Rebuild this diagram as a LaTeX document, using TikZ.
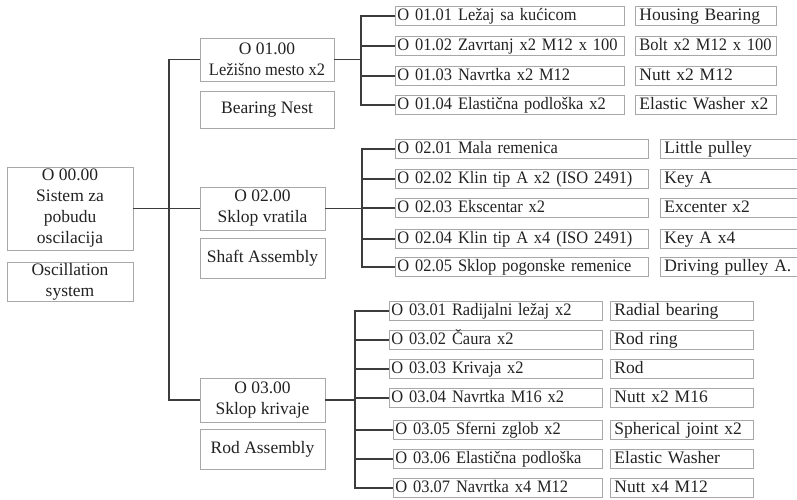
\documentclass[tikz,border=0pt]{standalone}
\usepackage{fontspec}
\setmainfont{Liberation Serif}
\newfontfamily\codefont[FakeStretch=0.94]{Liberation Serif}
\definecolor{boxgray}{HTML}{A8A8A8}
\definecolor{wire}{HTML}{3C3C3C}
\definecolor{ink}{HTML}{222222}
\newcommand{\treefont}{\fontsize{17.5}{21}\selectfont}
\begin{document}
\begin{tikzpicture}[x=1pt,y=-1pt,
  box/.style={draw=boxgray, line width=0.9pt, rectangle, font=\treefont, text=ink},
  midbox/.style={box, inner sep=0pt, align=center},
  item/.style={box, anchor=west, minimum height=19pt, inner xsep=2pt, inner ysep=0pt,
    text width=#1, align=left, text height=12.5pt, text depth=3.5pt,
    font=\treefont\codefont},
  eng/.style={item=#1, inner xsep=4pt, font=\treefont},
  ln/.style={draw=wire, line width=1.5pt}
]
\useasboundingbox (0,0) rectangle (797,500);
\clip (0,0) rectangle (797,500);

% ---- root level ----
\node[midbox, minimum width=126pt, minimum height=83pt] (root) at (70,208.5)
  {O 00.00\\Sistem za\\pobudu\\oscilacija};
\node[midbox, minimum width=126pt, minimum height=39pt] (rooten) at (70,281.5)
  {Oscillation\\system};

% ---- sub-assemblies ----
\node[midbox, minimum width=134pt, minimum height=43pt] (p1) at (267,59.5)
  {O 01.00\\{\codefont Ležišno mesto x2}};
\node[midbox, minimum width=134pt, minimum height=37pt] (p1en) at (267,109.5)
  {Bearing Nest};
\node[midbox, minimum width=125pt, minimum height=43pt] (p2) at (262.5,208.5)
  {O 02.00\\Sklop vratila};
\node[midbox, minimum width=125pt, minimum height=40pt] (p2en) at (262.5,258)
  {Shaft Assembly};
\node[midbox, minimum width=125pt, minimum height=44pt] (p3) at (262.5,400)
  {O 03.00\\Sklop krivaje};
\node[midbox, minimum width=125pt, minimum height=40pt] (p3en) at (262.5,449)
  {Rod Assembly};

% ---- group 01 parts ----
\node[item=225pt] (c11) at (395,16)  {O 01.01 Ležaj sa kućicom};
\node[item=225pt] (c12) at (395,46)  {\mbox{O 01.02 Zavrtanj x2 M12 x 100}};
\node[item=225pt] (c13) at (395,76)  {O 01.03 Navrtka x2 M12};
\node[item=225pt] (c14) at (395,105) {\mbox{O 01.04 Elastična podloška x2}};
\node[eng=133pt] (e11) at (635,16)  {Housing Bearing};
\node[eng=133pt] (e12) at (635,46)  {\mbox{\codefont Bolt x2 M12 x 100}};
\node[eng=133pt] (e13) at (635,76)  {Nutt x2 M12};
\node[eng=133pt] (e14) at (635,105) {\mbox{Elastic Washer x2}};

% ---- group 02 parts ----
\node[item=249pt] (c21) at (395,149) {O 02.01 Mala remenica};
\node[item=249pt] (c22) at (395,179) {O 02.02 Klin tip A x2 (ISO 2491)};
\node[item=249pt] (c23) at (395,208) {O 02.03 Ekscentar x2};
\node[item=249pt] (c24) at (395,239) {O 02.04 Klin tip A x4 (ISO 2491)};
\node[item=249pt] (c25) at (395,267) {\mbox{O 02.05 Sklop pogonske remenice}};
\node[eng=152pt] (e21) at (660,149) {Little pulley};
\node[eng=152pt] (e22) at (660,179) {Key A};
\node[eng=152pt] (e23) at (660,208) {Excenter x2};
\node[eng=152pt] (e24) at (660,239) {Key A x4};
\node[eng=152pt] (e25) at (660,267) {Driving pulley A.};

% ---- group 03 parts ----
\node[item=209pt] (c31) at (389,311) {O 03.01 Radijalni ležaj x2};
\node[item=209pt] (c32) at (389,340) {O 03.02 Čaura x2};
\node[item=209pt] (c33) at (389,369) {O 03.03 Krivaja x2};
\node[item=209pt] (c34) at (389,398) {O 03.04 Navrtka M16 x2};
\node[item=205pt] (c35) at (393,430) {O 03.05 Sferni zglob x2};
\node[item=205pt] (c36) at (393,459) {\mbox{O 03.06 Elastična podloška}};
\node[item=205pt] (c37) at (393,488) {O 03.07 Navrtka x4 M12};
\node[eng=135pt] (e31) at (610,311) {Radial bearing};
\node[eng=135pt] (e32) at (610,340) {Rod ring};
\node[eng=135pt] (e33) at (610,369) {Rod};
\node[eng=135pt] (e34) at (610,398) {Nutt x2 M16};
\node[eng=135pt] (e35) at (610,430) {\mbox{Spherical joint x2}};
\node[eng=135pt] (e36) at (610,459) {Elastic Washer};
\node[eng=135pt] (e37) at (610,488) {Nutt x4 M12};

% ---- bus lines ----
\coordinate (b0) at (169,0);
\coordinate (b1) at (361,0);
\coordinate (b2) at (362,0);
\coordinate (b3) at (355,0);

% root to sub-assemblies
\draw[ln] (root.east) -- (root.east -| b0);
\draw[ln] (p1.west) -- (p1.west -| b0) -- (p3.west -| b0) -- (p3.west);
\draw[ln] (p2.west -| b0) -- (p2.west);

% group 01
\draw[ln] (p1.east) -- (p1.east -| b1);
\draw[ln] (c11.west) -- (c11.west -| b1) -- (c14.west -| b1) -- (c14.west);
\foreach \n in {c12,c13} \draw[ln] (\n.west -| b1) -- (\n.west);

% group 02
\draw[ln] (p2.east) -- (p2.east -| b2);
\draw[ln] (c21.west) -- (c21.west -| b2) -- (c25.west -| b2) -- (c25.west);
\foreach \n in {c22,c23,c24} \draw[ln] (\n.west -| b2) -- (\n.west);

% group 03
\draw[ln] (p3.east) -- (p3.east -| b3);
\draw[ln] (c31.west) -- (c31.west -| b3) -- (c37.west -| b3) -- (c37.west);
\foreach \n in {c32,c33,c34,c35,c36} \draw[ln] (\n.west -| b3) -- (\n.west);
\end{tikzpicture}
\end{document}
